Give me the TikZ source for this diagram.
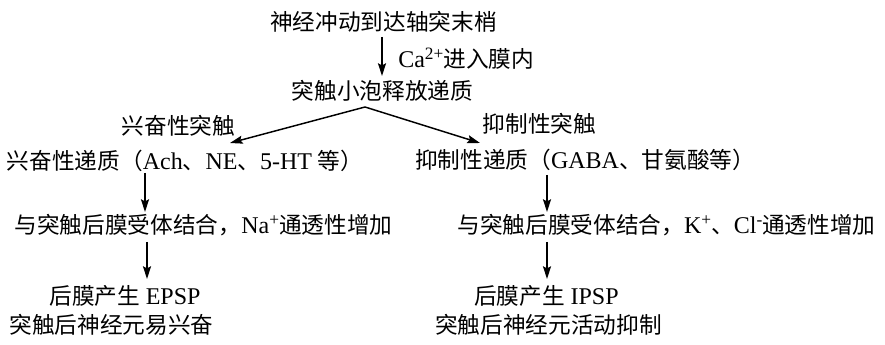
\documentclass[tikz,border=0pt]{standalone}
\usepackage{fontspec}
\setmainfont{Liberation Serif}
\newfontfamily\cjk{Noto Sans CJK SC}
\usetikzlibrary{arrows.meta}
\newcommand\mysup[1]{\raisebox{0.8ex}{\fontsize{13}{13}\selectfont #1}}
\tikzset{
  txt/.style={anchor=base, inner sep=0pt, font=\fontsize{17}{20}\selectfont},
  arr/.style={line width=1.1pt, -{Stealth[length=9.5pt,width=6pt,inset=1.5pt]}},
  ln/.style={line width=1.1pt}
}
\begin{document}
\begin{tikzpicture}[x=0.75pt,y=-0.75pt]
\useasboundingbox (0,0) rectangle (885,345);
% nodes
\node[txt] (n1) at (383.5,31) {\cjk 神经冲动到达轴突末梢};
\node[txt,anchor=base west] (ca) at (398,68) {{\fontsize{18}{20}\selectfont Ca}\mysup{2+}{\cjk 进入膜内}};
\node[txt] (n2) at (382.5,100) {\cjk 突触小泡释放递质};
\node[txt] (ex) at (178.5,135) {\cjk 兴奋性突触};
\node[txt] (in) at (539.5,133) {\cjk 抑制性突触};
\node[txt] (exT) at (185,170) {{\cjk 兴奋性递质（}{\fontsize{18}{20}\selectfont Ach}{\cjk 、}{\fontsize{18}{20}\selectfont NE}{\cjk 、}{\fontsize{18}{20}\selectfont 5-HT} {\cjk 等）}};
\node[txt] (inT) at (585,169) {{\cjk 抑制性递质（}{\fontsize{18}{20}\selectfont GABA}{\cjk 、甘氨酸等）}};
\node[txt] (exB) at (203.5,234) {{\cjk 与突触后膜受体结合，}{\fontsize{18}{20}\selectfont Na}\mysup{+}{\cjk 通透性增加}};
\node[txt] (inB) at (666.5,234) {{\cjk 与突触后膜受体结合，}{\fontsize{18}{20}\selectfont K}\mysup{+}{\cjk 、}{\fontsize{18}{20}\selectfont Cl}\mysup{-}{\cjk 通透性增加}};
\node[txt] (epsp) at (125,305) {{\cjk 后膜产生} {\fontsize{18}{20}\selectfont EPSP}};
\node[txt] (ipsp) at (546.5,305) {{\cjk 后膜产生} {\fontsize{18}{20}\selectfont IPSP}};
\node[txt] (exR) at (111.5,333) {\cjk 突触后神经元易兴奋};
\node[txt] (inR) at (548.5,333) {\cjk 突触后神经元活动抑制};
% connector endpoints
\coordinate (a1s) at (382,37);
\coordinate (a1e) at (382,76);
\coordinate (apex) at (365,107);
\coordinate (fl) at (230,143);
\coordinate (fr) at (480,143);
\coordinate (a2s) at (145,173);
\coordinate (a2e) at (145,212);
\coordinate (a3s) at (547,175);
\coordinate (a3e) at (547,212);
\coordinate (a4s) at (147,242);
\coordinate (a4e) at (147,279);
\coordinate (a5s) at (547,242);
\coordinate (a5e) at (547,279);
% connectors
\draw[arr] (a1s) -- (a1e);
\draw[arr] (apex) -- (fl);
\draw[arr] (apex) -- (fr);
\draw[arr] (a2s) -- (a2e);
\draw[arr] (a3s) -- (a3e);
\draw[arr] (a4s) -- (a4e);
\draw[arr] (a5s) -- (a5e);
\end{tikzpicture}
\end{document}
